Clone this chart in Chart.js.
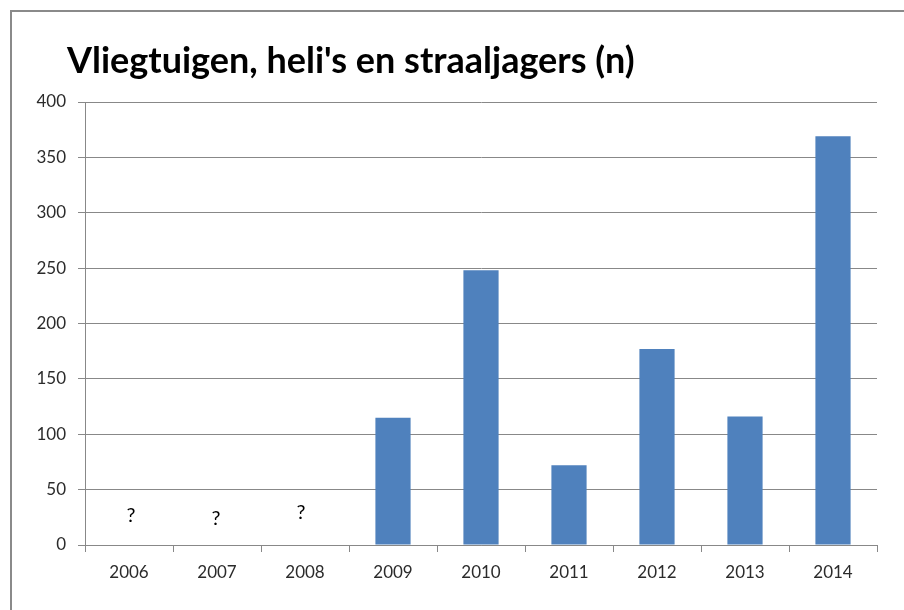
<!DOCTYPE html>
<html>
<head>
<meta charset="utf-8">
<script src="https://cdn.jsdelivr.net/npm/chart.js@4/dist/chart.umd.min.js"></script>
<style>
  html, body { margin: 0; padding: 0; background: #fff; }
  #wrap { position: relative; width: 904px; height: 610px; overflow: hidden; }
  #frame { position: absolute; left: 10px; top: 10px; width: 1000px; height: 1000px;
           border-left: 2px solid #8a8a8a; border-top: 2px solid #8a8a8a; }
  canvas { position: absolute; left: 0; top: 0; }
</style>
</head>
<body>
<div id="wrap">
  <div id="frame"></div>
  <canvas id="myChart" width="904" height="610"></canvas>
</div>
<script>
const years = ['2006', '2007', '2008', '2009', '2010', '2011', '2012', '2013', '2014'];
const counts = [null, null, null, 115, 248, 72, 177, 116, 369];
// "?" markers for the unknown years (value height where they sit)
const unknownMarks = [27, 24, 29, null, null, null, null, null, null];
const yTicks = [0, 50, 100, 150, 200, 250, 300, 350, 400];
const chartTitle = "Vliegtuigen, heli's en straaljagers (n)";

const FONT = 'Lato, "Open Sans", sans-serif';
const gridGray = '#888888';

// draws the title and the question marks
const extras = {
  id: 'extras',
  afterDraw(chart) {
    const c = chart.ctx;
    const xs = chart.scales.x, ys = chart.scales.y;
    c.save();
    c.fillStyle = '#000';
    c.font = 'bold 36px ' + FONT;
    c.textAlign = 'left';
    c.textBaseline = 'alphabetic';
    c.fillText(chartTitle, 67, 73);

    c.font = '20px ' + FONT;
    c.textAlign = 'center';
    c.textBaseline = 'middle';
    unknownMarks.forEach((v, i) => {
      if (v == null) return;
      c.fillText('?', xs.getPixelForValue(i) + 2 - i * 3, ys.getPixelForValue(v));
    });
    c.restore();
  }
};

const ctx = document.getElementById('myChart');

new Chart(ctx, {
  type: 'bar',
  data: {
    labels: years,
    datasets: [{
      data: counts,
      backgroundColor: '#4F81BD',
      borderWidth: 0,
      barPercentage: 0.8,
      categoryPercentage: 0.5
    }]
  },
  options: {
    responsive: false,
    animation: false,
    layout: { padding: { left: 0, top: 102, right: 27, bottom: 15 } },
    plugins: {
      legend: { display: false },
      title: { display: false },
      tooltip: { enabled: false }
    },
    scales: {
      x: {
        afterFit: s => { s.height = 50; },
        grid: { drawOnChartArea: false, drawTicks: true, tickLength: 7, color: gridGray, offset: true },
        border: { color: gridGray },
        ticks: { color: '#2b2b2b', font: { family: FONT, size: 17 }, padding: 10 }
      },
      y: {
        min: 0,
        max: 400,
        afterFit: s => { s.width = 85; },
        afterBuildTicks: s => { s.ticks = yTicks.map(v => ({ value: v })); },
        grid: { color: gridGray, tickLength: 7 },
        border: { color: gridGray },
        ticks: { color: '#2b2b2b', font: { family: FONT, size: 17 }, padding: 12 }
      }
    }
  },
  plugins: [extras]
});
</script>
</body>
</html>
